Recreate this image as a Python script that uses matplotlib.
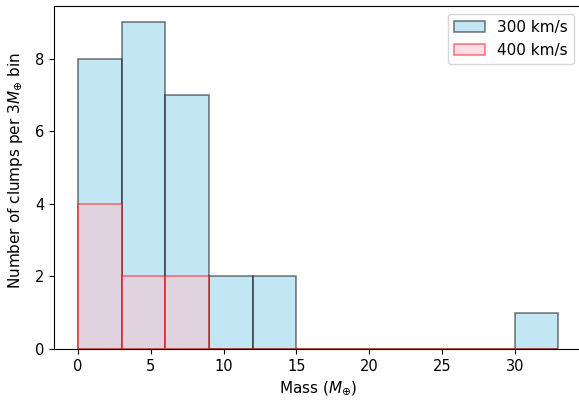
import numpy as np
import matplotlib
matplotlib.use("Agg")
import matplotlib.pyplot as plt

bin_edges = [0, 3, 6, 9, 12, 15, 18, 21, 24, 27, 30, 33]
counts_300 = [8, 9, 7, 2, 2, 0, 0, 0, 0, 0, 1]
counts_400 = [4, 2, 2, 0, 0, 0, 0, 0, 0, 0, 0]

centers = [(a + b) / 2 for a, b in zip(bin_edges[:-1], bin_edges[1:])]

plt.rcParams['font.size'] = 11
plt.rcParams['xtick.labelsize'] = 10.5
plt.rcParams['ytick.labelsize'] = 10.5
W, H = 579, 401
fig = plt.figure(figsize=(W / 100, H / 100), dpi=100)
# axes in pixel coordinates: left 54, right ~582.5, top 6, bottom 349
ax = fig.add_axes([54 / W, (H - 349) / H, 528.5 / W, 343 / H])
ax.hist(centers, bins=bin_edges, weights=counts_300, alpha=0.5,
        color='skyblue', edgecolor='black', linewidth=1.2, label='300 km/s')
ax.hist(centers, bins=bin_edges, weights=counts_400, alpha=0.5,
        color='pink', edgecolor='red', linewidth=1.2, label='400 km/s')
ax.set_xlabel(r'Mass ($M_{\oplus}$)')
ax.set_ylabel(r'Number of clumps per $3M_{\oplus}$ bin')
ax.yaxis.set_label_coords(-0.054, 0.52)
ax.legend(loc='upper right', bbox_to_anchor=(574 / W, (H - 14) / H),
          bbox_transform=fig.transFigure, borderaxespad=0.0)
fig.savefig('out.png', dpi=100)
